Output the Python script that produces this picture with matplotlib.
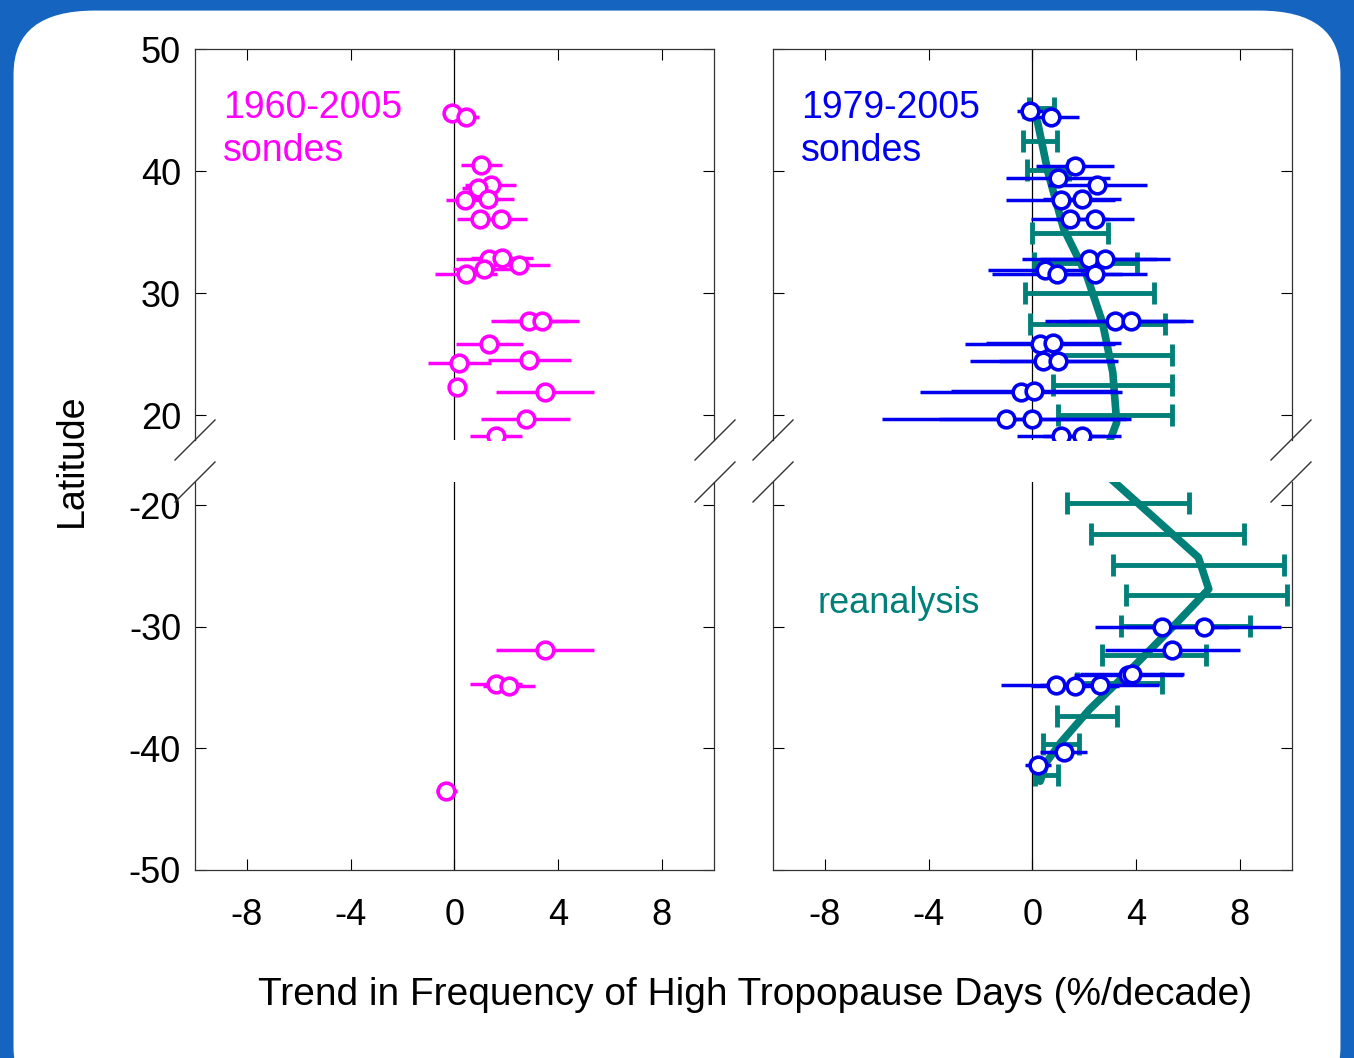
import matplotlib.pyplot as plt
from matplotlib.patches import FancyBboxPatch
from matplotlib.lines import Line2D

plt.rcParams['font.family'] = ['Liberation Sans', 'DejaVu Sans']
plt.rcParams['axes.unicode_minus'] = False

# ---- 左图：1960-2005 探空 (trend, err, lat)
L_x = [-0.1, 0.45, 1.05, 1.4, 0.9, 0.4, 1.3, 1.0, 1.8, 1.35, 1.85, 2.5, 1.15, 0.45,
       2.9, 3.4, 1.35, 0.2, 2.9, 0.1, 3.5, 2.75, 1.6, 3.5, 1.6, 2.1, -0.3]
L_e = [0.0, 0.5, 0.8, 1.0, 0.6, 0.7, 1.0, 0.9, 1.0, 1.3, 1.2, 1.2, 1.2, 1.2,
       1.5, 1.4, 1.3, 1.2, 1.6, 0.0, 1.9, 1.7, 1.0, 1.9, 1.0, 1.0, 0.4]
L_y = [44.8, 44.4, 40.5, 38.9, 38.6, 37.6, 37.7, 36.1, 36.1, 32.8, 32.9, 32.3, 32.0, 31.6,
       27.7, 27.7, 25.8, 24.3, 24.5, 22.3, 21.9, 19.7, 18.3, -31.9, -34.7, -34.9, -43.5]

# ---- 右图：1979-2005 探空
R_x = [-0.1, 0.7, 1.65, 1.0, 2.5, 1.1, 1.9, 1.45, 2.4, 2.2, 2.8, 0.5, 0.95, 2.4,
       3.2, 3.8, 0.3, 0.8, 0.4, 1.0, -0.45, 0.05, -1.0, 0.0, 1.1, 1.9,
       5.0, 6.6, 5.4, 3.7, 3.85, 0.9, 1.65, 2.6, 1.2, 0.2]
R_e = [0.5, 1.1, 1.5, 2.0, 1.9, 2.1, 1.5, 1.5, 1.5, 2.6, 2.5, 2.2, 2.5, 2.0,
       2.7, 2.4, 2.9, 2.6, 2.8, 2.3, 3.9, 3.2, 4.8, 3.6, 1.7, 1.5,
       2.6, 3.0, 2.6, 2.1, 2.0, 2.1, 1.7, 2.3, 0.9, 0.5]
R_y = [44.9, 44.4, 40.4, 39.4, 38.9, 37.6, 37.7, 36.1, 36.1, 32.8, 32.8, 31.9, 31.6, 31.6,
       27.7, 27.7, 25.8, 25.9, 24.4, 24.4, 21.9, 22.0, 19.7, 19.7, 18.3, 18.3,
       -30.0, -30.0, -31.9, -34.0, -33.9, -34.8, -34.9, -34.8, -40.3, -41.4]

# ---- 再分析
rea_line_x = [0.0, 0.2, 0.6, 1.2, 2.1, 2.7, 3.1, 3.25, 3.0]
rea_line_y = [45.0, 44.0, 39.9, 35.3, 31.4, 27.6, 23.5, 19.4, 18.0]
rea_line_x_s = [2.9, 5.2, 6.4, 6.8, 5.6, 3.8, 2.2, 1.1, 0.55, 0.3]
rea_line_y_s = [-17.6, -22.0, -24.3, -26.9, -29.6, -33.5, -36.8, -39.5, -41.1, -42.7]
rea_bar_x = [0.35, 0.3, 0.6, 1.45, 2.05, 2.2, 2.5, 3.1, 3.1, 3.2,
             3.7, 5.2, 6.4, 6.7, 5.9, 4.7, 3.35, 2.1, 1.1, 0.55]
rea_bar_e = [0.5, 0.65, 0.8, 1.45, 2.0, 2.5, 2.6, 2.3, 2.3, 2.2,
             2.35, 2.95, 3.3, 3.1, 2.5, 2.0, 1.65, 1.15, 0.7, 0.45]
rea_bar_y = [45.2, 42.5, 40.1, 34.9, 32.5, 30.0, 27.5, 24.9, 22.5, 20.0,
             -19.8, -22.4, -24.9, -27.4, -29.9, -32.3, -34.6, -37.3, -39.6, -42.2]

MAG = '#ff00ff'
BLUE = '#0000ee'
TEAL = '#008078'

fig = plt.figure(figsize=(13.54, 10.58), dpi=100)
fig.patch.set_facecolor('#1565c0')
bg = fig.add_axes([0, 0, 1, 1], zorder=-5)
bg.axis('off')
bg.add_patch(FancyBboxPatch((0.010, -0.05), 0.980, 1.04, boxstyle='round,pad=0,rounding_size=0.06',
                            transform=bg.transAxes, facecolor='white', edgecolor='none'))

lefts = [0.144, 0.571]
w = 0.383
axes = {}
for i, l in enumerate(lefts):
    at = fig.add_axes([l, 0.584, w, 0.3696])
    ab = fig.add_axes([l, 0.1777, w, 0.3667])
    at.set_ylim(17.95, 50)
    ab.set_ylim(-50, -18.1)
    for ax in (at, ab):
        ax.set_facecolor('none')
        ax.set_xlim(-10, 10)
        ax.set_xticks([-8, -4, 0, 4, 8])
        ax.axvline(0, color='black', lw=0.9, zorder=1)
        ax.tick_params(direction='in', top=True, right=True, length=8, labelsize=26, pad=10)
        for s in ax.spines.values():
            s.set_linewidth(0.9)
            s.set_color('#333333')
    ab.tick_params(axis='x', pad=20)
    at.spines['bottom'].set_visible(False)
    ab.spines['top'].set_visible(False)
    at.tick_params(bottom=False, labelbottom=False)
    ab.tick_params(top=False)
    at.set_yticks([20, 30, 40, 50])
    ab.set_yticks([-50, -40, -30, -20])
    if i == 1:
        at.set_yticklabels([])
        ab.set_yticklabels([])
    axes[i] = (at, ab)

# 左图
for ax in axes[0]:
    ax.errorbar(L_x, L_y, xerr=L_e, fmt='o', mfc='white', mec=MAG, ecolor=MAG,
                ms=12, mew=2.6, elinewidth=2.5, capsize=0, zorder=3)

# 右图
for k, ax in enumerate(axes[1]):
    half = slice(0, 10) if k == 0 else slice(10, 20)
    ax.errorbar(rea_bar_x[half], rea_bar_y[half], xerr=rea_bar_e[half], fmt='none',
                ecolor=TEAL, elinewidth=3.5, capsize=8, capthick=3.5, zorder=2)
    ax.errorbar(R_x, R_y, xerr=R_e, fmt='o', mfc='white', mec=BLUE, ecolor=BLUE,
                ms=12, mew=2.6, elinewidth=2.5, capsize=0, zorder=3)
axes[1][0].plot(rea_line_x, rea_line_y, color=TEAL, lw=5.5, solid_capstyle='round', zorder=2.5)
axes[1][1].plot(rea_line_x_s, rea_line_y_s, color=TEAL, lw=5.5, solid_capstyle='round', zorder=2.5)

axes[0][0].text(0.054, 0.895, '1960-2005\nsondes', transform=axes[0][0].transAxes, color=MAG,
                fontsize=27, va='top', linespacing=1.25)
axes[1][0].text(0.054, 0.895, '1979-2005\nsondes', transform=axes[1][0].transAxes, color=BLUE,
                fontsize=27, va='top', linespacing=1.25)
axes[1][1].text(-8.3, -28.9, 'reanalysis', color=TEAL, fontsize=26)

# 断轴标记
for xp in [195, 715, 773, 1291]:
    for yp in [440, 482]:
        fig.lines.append(Line2D([(xp - 20) / 1354, (xp + 20) / 1354],
                                [1 - (yp + 20) / 1058, 1 - (yp - 20) / 1058],
                                transform=fig.transFigure, color='#333333', lw=1))

fig.text(0.053, 0.565, 'Latitude', rotation=90, fontsize=27, ha='center', va='center')
fig.text(0.558, 0.06, 'Trend in Frequency of High Tropopause Days (%/decade)', fontsize=28,
         ha='center', va='center')

fig.savefig('out.png', dpi=100, facecolor=fig.get_facecolor())
